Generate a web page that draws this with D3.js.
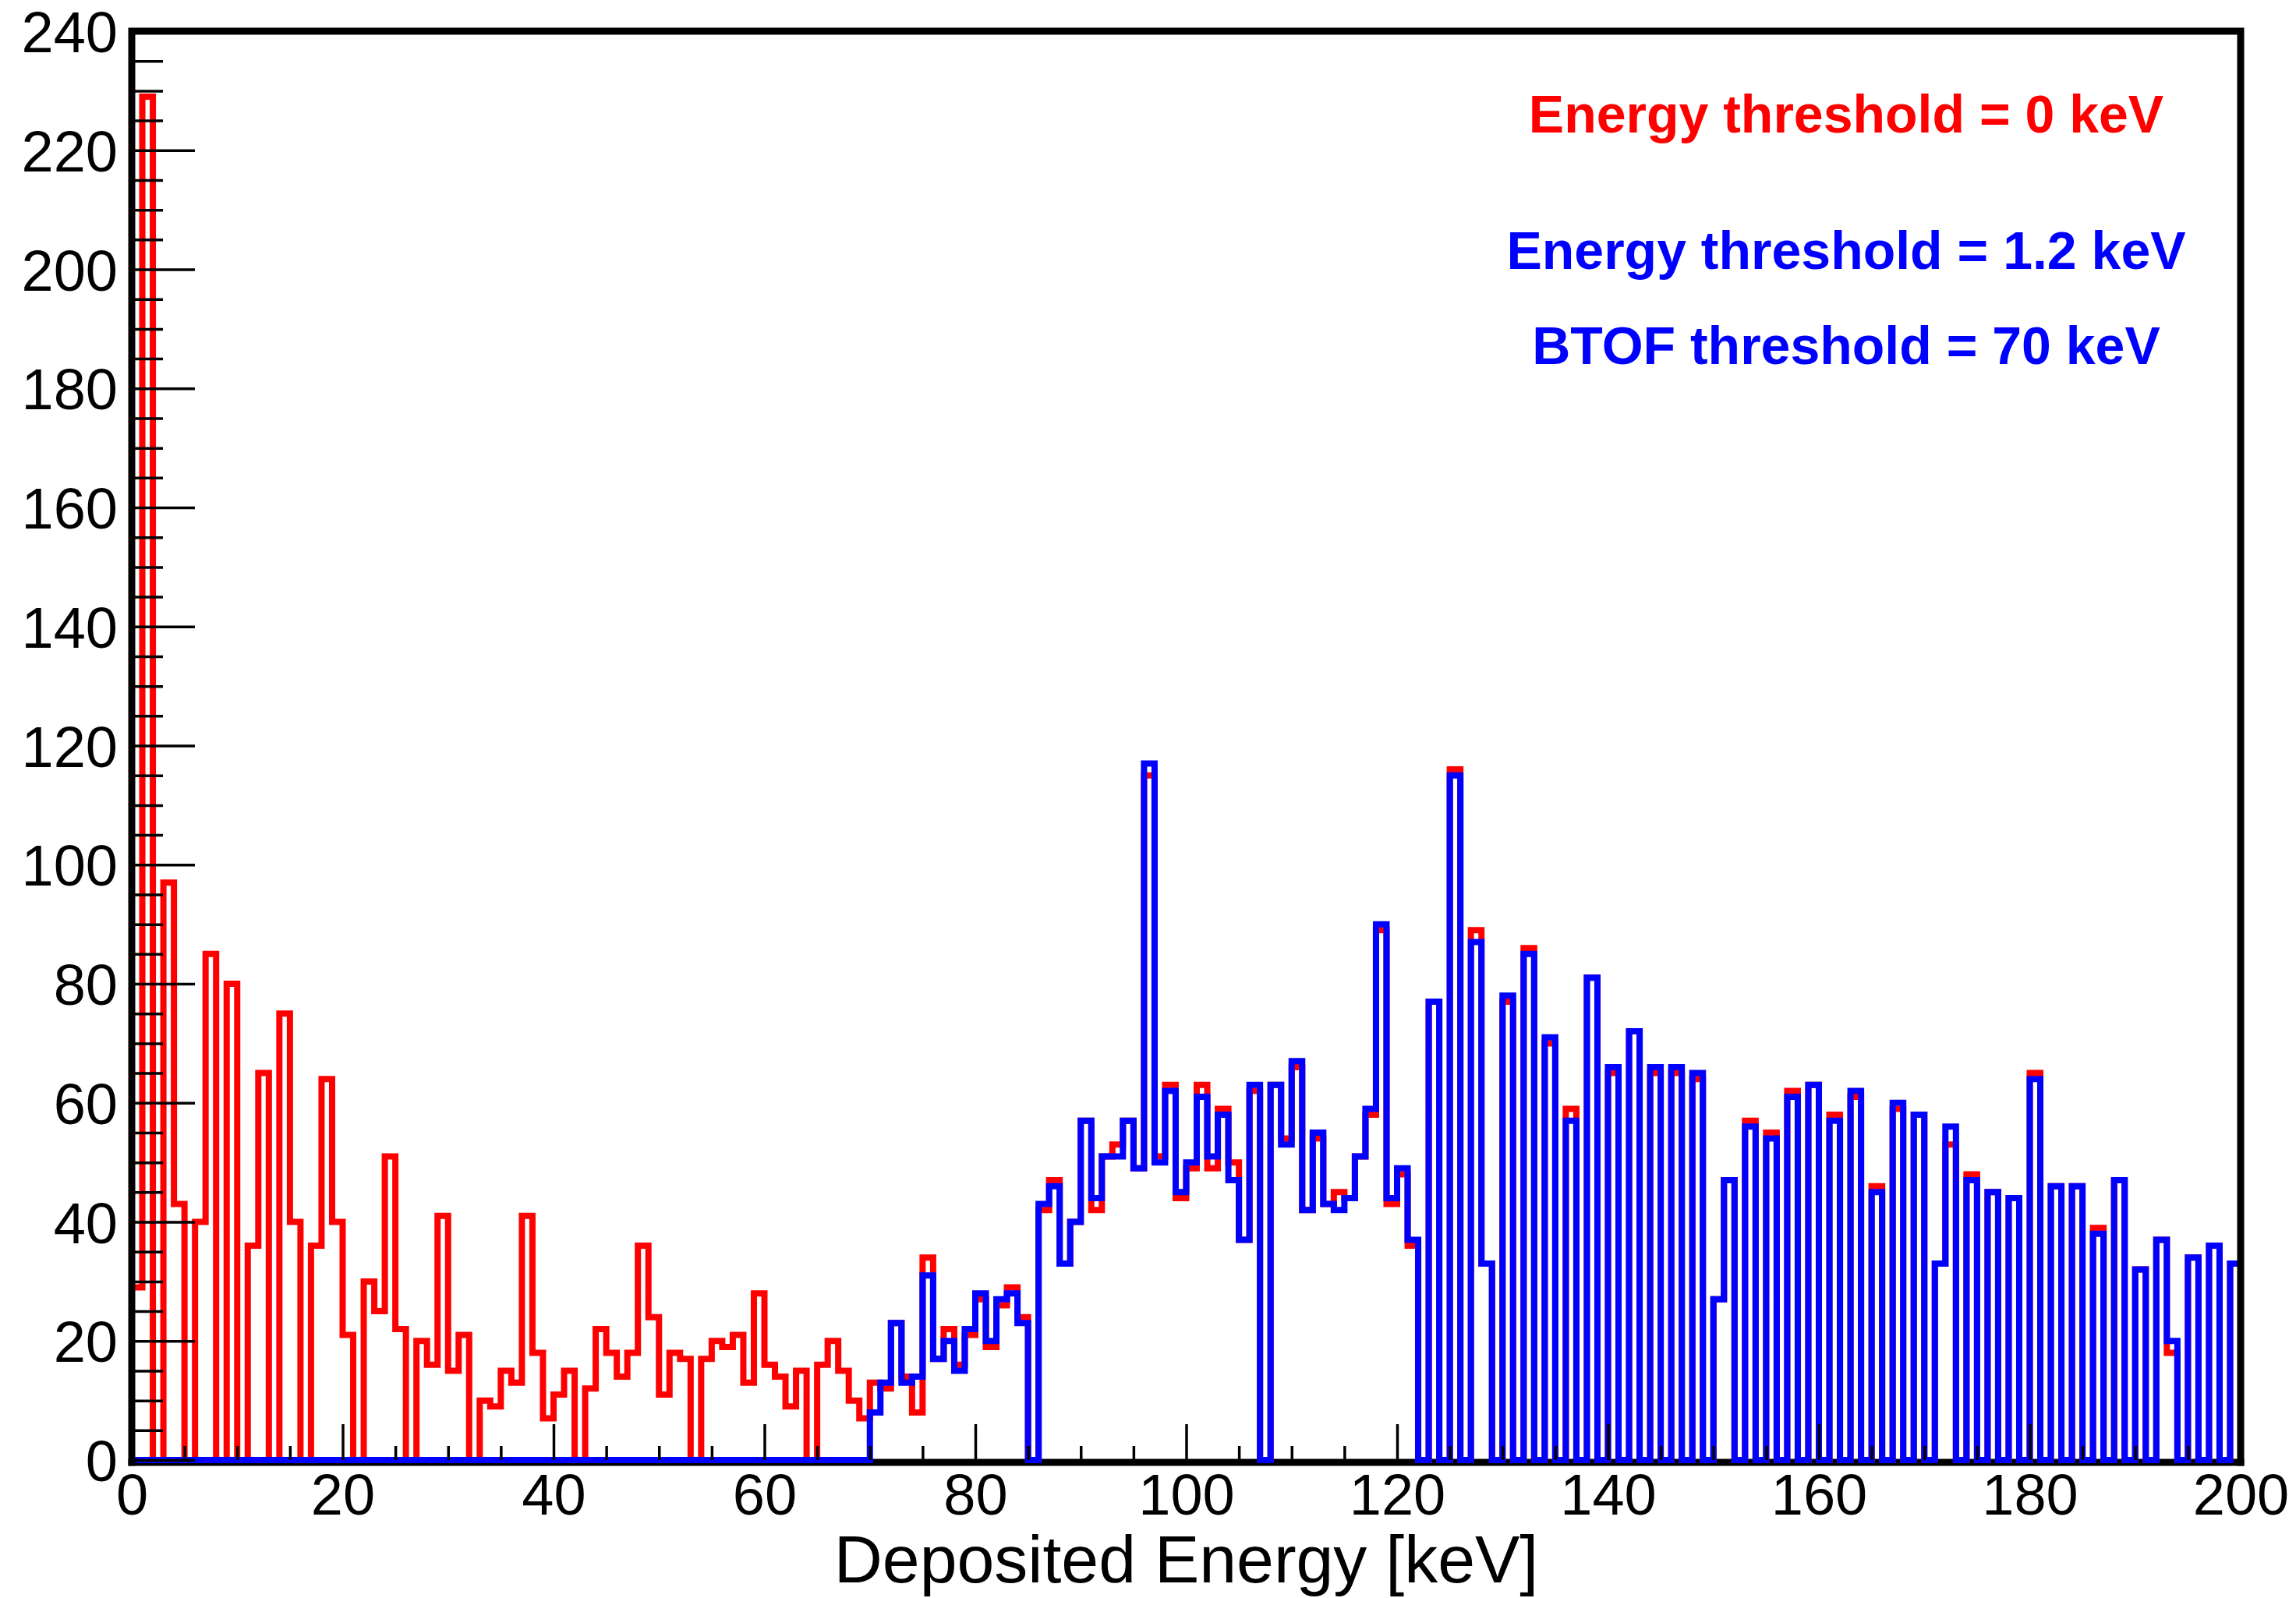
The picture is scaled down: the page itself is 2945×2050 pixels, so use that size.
<!DOCTYPE html>
<html>
<head>
<meta charset="utf-8">
<script src="https://cdn.jsdelivr.net/npm/d3@7"></script>
<style>
  html, body { margin: 0; padding: 0; background: #ffffff; }
  svg { display: block; }
  text { font-family: "Liberation Sans", Arial, Helvetica, sans-serif; }
</style>
</head>
<body>
<svg id="chart" width="2945" height="2050"></svg>
<script>
// ---------------- data ----------------
const xDomain = [0, 200];          // Deposited Energy [keV], 1 keV bins
const yDomain = [0, 240];
const xMajorTicks = [0, 20, 40, 60, 80, 100, 120, 140, 160, 180, 200];
const yMajorTicks = [0, 20, 40, 60, 80, 100, 120, 140, 160, 180, 200, 220, 240];

// Energy threshold = 0 keV (red)
const redCounts = [
  29, 229, 0, 97, 43, 0, 40, 85, 0, 80,
  0, 36, 65, 0, 75, 40, 0, 36, 64, 40,
  21, 0, 30, 25, 51, 22, 0, 20, 16, 41,
  15, 21, 0, 10, 9, 15, 13, 41, 18, 7,
  11, 15, 0, 12, 22, 18, 14, 18, 36, 24,
  11, 18, 17, 0, 17, 20, 19, 21, 13, 28,
  16, 14, 9, 15, 0, 16, 20, 15, 10, 7,
  13, 12, 23, 14, 8, 34, 17, 22, 16, 21,
  27, 19, 26, 29, 24, 0, 42, 47, 33, 40,
  57, 42, 51, 53, 57, 49, 115, 51, 63, 44,
  49, 63, 49, 59, 50, 37, 62, 0, 63, 54,
  66, 42, 54, 43, 45, 44, 51, 58, 89, 43,
  48, 36, 0, 77, 0, 116, 0, 89, 33, 0,
  77, 0, 86, 0, 70, 0, 59, 0, 81, 0,
  65, 0, 72, 0, 65, 0, 65, 0, 64, 0,
  27, 47, 0, 57, 0, 55, 0, 62, 0, 63,
  0, 58, 0, 61, 0, 46, 0, 59, 0, 58,
  0, 33, 53, 0, 48, 0, 45, 0, 44, 0,
  65, 0, 46, 0, 46, 0, 39, 0, 47, 0,
  32, 0, 37, 18, 0, 34, 0, 36, 0, 33
];

// Energy threshold = 1.2 keV, BTOF threshold = 70 keV (blue)
const blueCounts = [
  0, 0, 0, 0, 0, 0, 0, 0, 0, 0,
  0, 0, 0, 0, 0, 0, 0, 0, 0, 0,
  0, 0, 0, 0, 0, 0, 0, 0, 0, 0,
  0, 0, 0, 0, 0, 0, 0, 0, 0, 0,
  0, 0, 0, 0, 0, 0, 0, 0, 0, 0,
  0, 0, 0, 0, 0, 0, 0, 0, 0, 0,
  0, 0, 0, 0, 0, 0, 0, 0, 0, 0,
  8, 13, 23, 13, 14, 31, 17, 20, 15, 22,
  28, 20, 27, 28, 23, 0, 43, 46, 33, 40,
  57, 44, 51, 51, 57, 49, 117, 50, 62, 45,
  50, 61, 51, 58, 47, 37, 63, 0, 63, 53,
  67, 42, 55, 43, 42, 44, 51, 59, 90, 44,
  49, 37, 0, 77, 0, 115, 0, 87, 33, 0,
  78, 0, 85, 0, 71, 0, 57, 0, 81, 0,
  66, 0, 72, 0, 66, 0, 66, 0, 65, 0,
  27, 47, 0, 56, 0, 54, 0, 61, 0, 63,
  0, 57, 0, 62, 0, 45, 0, 60, 0, 58,
  0, 33, 56, 0, 47, 0, 45, 0, 44, 0,
  64, 0, 46, 0, 46, 0, 38, 0, 47, 0,
  32, 0, 37, 20, 0, 34, 0, 36, 0, 33
];

const legendLines = [
  { text: "Energy threshold = 0 keV", color: "#ff0000" },
  { text: "Energy threshold = 1.2 keV", color: "#0000ff" },
  { text: "BTOF threshold = 70 keV", color: "#0000ff" }
];
const xTitle = "Deposited Energy [keV]";

// ---------------- layout ----------------
const plotL = 169, plotR = 2874, plotT = 40, plotB = 1873;
const svg = d3.select("#chart");
svg.append("rect").attr("width", 2945).attr("height", 2050).attr("fill", "#fff");

const x = d3.scaleLinear().domain(xDomain).range([plotL, plotR]);
const y = d3.scaleLinear().domain(yDomain).range([plotB, plotT]);

// bottom frame line (beneath histograms)
svg.append("line")
  .attr("x1", plotL - 4.5).attr("x2", plotR + 4.5)
  .attr("y1", plotB + 3).attr("y2", plotB + 3)
  .attr("stroke", "#000").attr("stroke-width", 9);

// ---------------- histograms ----------------
function stepPoints(counts) {
  const pts = [[xDomain[0], 0]];
  counts.forEach((v, i) => {
    pts.push([xDomain[0] + i, v]);
    pts.push([xDomain[0] + i + 1, v]);
  });
  pts.push([xDomain[0] + counts.length, 0]);
  return pts;
}
const stepLine = d3.line().x(d => x(d[0])).y(d => y(d[1]));

svg.append("path")
  .attr("d", stepLine(stepPoints(redCounts)))
  .attr("fill", "none").attr("stroke", "#ff0000")
  .attr("stroke-width", 8).attr("stroke-linejoin", "miter");

svg.append("path")
  .attr("d", stepLine(stepPoints(blueCounts)))
  .attr("fill", "none").attr("stroke", "#0000ff")
  .attr("stroke-width", 8).attr("stroke-linejoin", "miter");

// ---------------- frame (left, top, right) ----------------
svg.append("path")
  .attr("d", `M${plotL},${plotB + 7.5}V${plotT}H${plotR}V${plotB + 7.5}`)
  .attr("fill", "none").attr("stroke", "#000").attr("stroke-width", 9)
  .attr("stroke-linejoin", "miter");

// ---------------- axes ----------------
const yMinor = d3.range(yDomain[0], yDomain[1] + 1, 5).filter(v => v % 20 !== 0);
const xMinor = d3.range(xDomain[0], xDomain[1] + 1, 5).filter(v => v % 20 !== 0);

const yAxisMajor = d3.axisLeft(y).tickValues(yMajorTicks).tickSize(-81).tickPadding(18)
  .tickFormat(d3.format("d"));
const gy = svg.append("g").attr("transform", `translate(${plotL},0)`).call(yAxisMajor);
gy.select(".domain").remove();
gy.selectAll(".tick line").attr("stroke", "#000").attr("stroke-width", 3.5);
gy.selectAll(".tick text").attr("font-size", 74).attr("fill", "#000").attr("dy", "0.36em");

const gyMinor = svg.append("g").attr("transform", `translate(${plotL},0)`)
  .call(d3.axisLeft(y).tickValues(yMinor).tickSize(-40).tickFormat(""));
gyMinor.select(".domain").remove();
gyMinor.selectAll(".tick line").attr("stroke", "#000").attr("stroke-width", 3.5);

const xAxisMajor = d3.axisBottom(x).tickValues(xMajorTicks).tickSize(-46).tickPadding(17)
  .tickFormat(d3.format("d"));
const gx = svg.append("g").attr("transform", `translate(0,${plotB})`).call(xAxisMajor);
gx.select(".domain").remove();
gx.selectAll(".tick line").attr("stroke", "#000").attr("stroke-width", 3.5);
gx.selectAll(".tick text").attr("font-size", 74).attr("fill", "#000");

const gxMinor = svg.append("g").attr("transform", `translate(0,${plotB})`)
  .call(d3.axisBottom(x).tickValues(xMinor).tickSize(-18).tickFormat(""));
gxMinor.select(".domain").remove();
gxMinor.selectAll(".tick line").attr("stroke", "#000").attr("stroke-width", 3.5);

// axis title
svg.append("text")
  .attr("x", (plotL + plotR) / 2).attr("y", 2030)
  .attr("text-anchor", "middle").attr("font-size", 86).attr("fill", "#000")
  .text(xTitle);

// ---------------- legend texts ----------------
const legendY = [170, 345, 467];
svg.selectAll("text.legend").data(legendLines).enter().append("text")
  .attr("class", "legend")
  .attr("x", 2368).attr("y", (d, i) => legendY[i])
  .attr("text-anchor", "middle")
  .attr("font-size", 68).attr("font-weight", "bold")
  .attr("fill", d => d.color)
  .text(d => d.text);
</script>
</body>
</html>
